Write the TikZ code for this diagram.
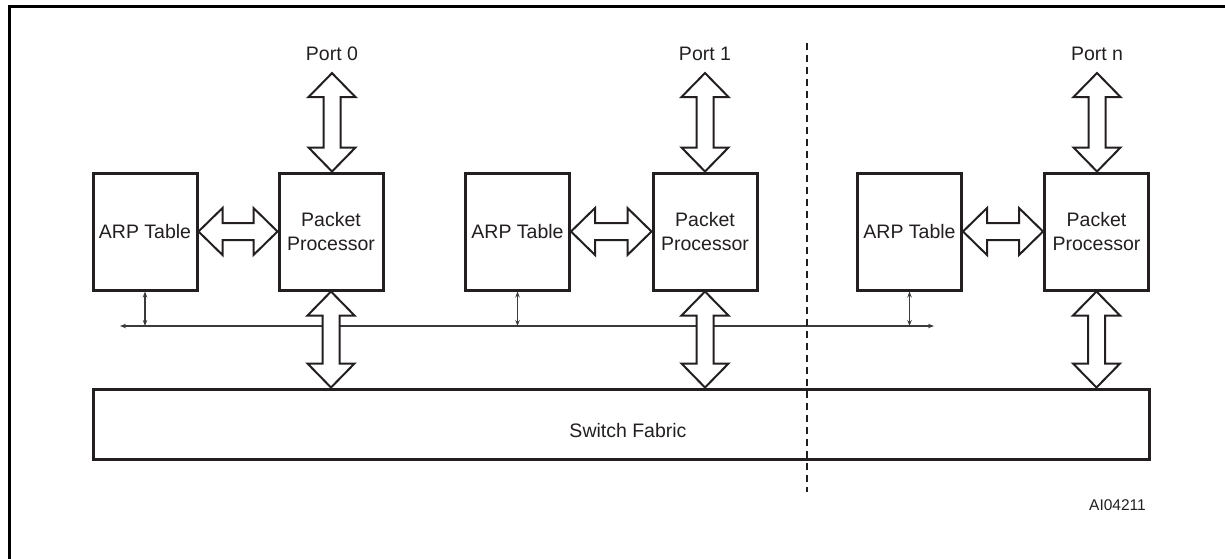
\documentclass[tikz,border=0pt]{standalone}
\usepackage{fontspec}
\setmainfont{Liberation Sans}
\usetikzlibrary{arrows.meta,calc}
\definecolor{ink}{HTML}{231F20}
\definecolor{busgray}{HTML}{3A3A3A}

% wide hollow double arrow, vertical: #1 = upper tip, #2 = lower tip
\newcommand\vfat[2]{%
  \draw[fatarrow] let \p1=(#1), \p2=(#2) in
    (\x1,\y1) -- (\x1+23.5pt,\y1-24pt) -- (\x1+8.5pt,\y1-24pt)
    -- (\x1+8.5pt,\y2+24pt) -- (\x1+23.5pt,\y2+24pt) -- (\x1,\y2)
    -- (\x1-23.5pt,\y2+24pt) -- (\x1-8.5pt,\y2+24pt)
    -- (\x1-8.5pt,\y1-24pt) -- (\x1-23.5pt,\y1-24pt) -- cycle;}
% wide hollow double arrow, horizontal: #1 = left tip, #2 = right tip
\newcommand\hfat[2]{%
  \draw[fatarrow] let \p1=(#1), \p2=(#2) in
    (\x1,\y1) -- (\x1+24pt,\y1+23.5pt) -- (\x1+24pt,\y1+8.5pt)
    -- (\x2-24pt,\y1+8.5pt) -- (\x2-24pt,\y1+23.5pt) -- (\x2,\y1)
    -- (\x2-24pt,\y1-23.5pt) -- (\x2-24pt,\y1-8.5pt)
    -- (\x1+24pt,\y1-8.5pt) -- (\x1+24pt,\y1-23.5pt) -- cycle;}

\tikzset{
  blockbox/.style={draw=ink, line width=3pt, fill=white, inner sep=0pt,
    minimum width=104pt, minimum height=117pt, align=center,
    text=ink, font=\fontsize{19.5}{24}\selectfont},
  fabricbox/.style={draw=ink, line width=3pt, inner sep=0pt,
    minimum width=1056pt, minimum height=70pt},
  lbl/.style={inner sep=0pt, text=ink, font=\fontsize{19.5}{24}\selectfont},
  smalllbl/.style={inner sep=0pt, text=ink, font=\fontsize{15.5}{18}\selectfont},
  fatarrow/.style={draw=ink, line width=2pt, fill=white, line join=miter},
  busline/.style={draw=busgray, line width=1.2pt,
    {Stealth[length=6pt,width=4.5pt]}-{Stealth[length=6pt,width=4.5pt]}},
  partition/.style={draw=ink, line width=1.5pt, dash pattern=on 7pt off 5pt},
  frameline/.style={draw=black, line width=3pt},
}

\begin{document}
\begin{tikzpicture}[x=1pt, y=-1pt]
  \useasboundingbox (0,0) rectangle (1225,558);

  % outer frame
  \draw[frameline] (9,580) -- (9,6.5) -- (1240,6.5);

  % shared bus between the ARP tables
  \coordinate (busL) at (120,326);
  \coordinate (busR) at (934,326);
  \draw[busline] (busL) -- (busR);

  % partition line
  \coordinate (cutT) at (807,43);
  \coordinate (cutB) at (807,492);
  \draw[partition] (cutT) -- (cutB);

  % switch fabric
  \node[fabricbox] (sf) at (621,424) {};
  \node[lbl] (sftext) at (628,431) {Switch Fabric};

  % port groups
  \node[blockbox] (arp0) at (145,231.5) {ARP Table};
  \node[blockbox] (pp0) at (331,231.5) {Packet\\Processor};
  \node[lbl] (port0) at (332,54) {Port 0};

  \node[blockbox] (arp1) at (517.5,231.5) {ARP Table};
  \node[blockbox] (pp1) at (705,231.5) {Packet\\Processor};
  \node[lbl] (port1) at (705,54) {Port 1};

  \node[blockbox] (arp2) at (909.5,231.5) {ARP Table};
  \node[blockbox] (pp2) at (1096.5,231.5) {Packet\\Processor};
  \node[lbl] (portn) at (1097,54) {Port n};

  \foreach \g/\portname in {0/port0, 1/port1, 2/portn}{
    \vfat{[yshift=-12pt]\portname.south}{pp\g.north}
    \hfat{arp\g.east}{pp\g.west}
    \vfat{pp\g.south}{sf.north}
    \draw[busline] (arp\g.south) -- (arp\g.south |- busL);
  }

  \node[smalllbl, anchor=east] (code) at (1146,505.5) {AI04211};
\end{tikzpicture}
\end{document}
